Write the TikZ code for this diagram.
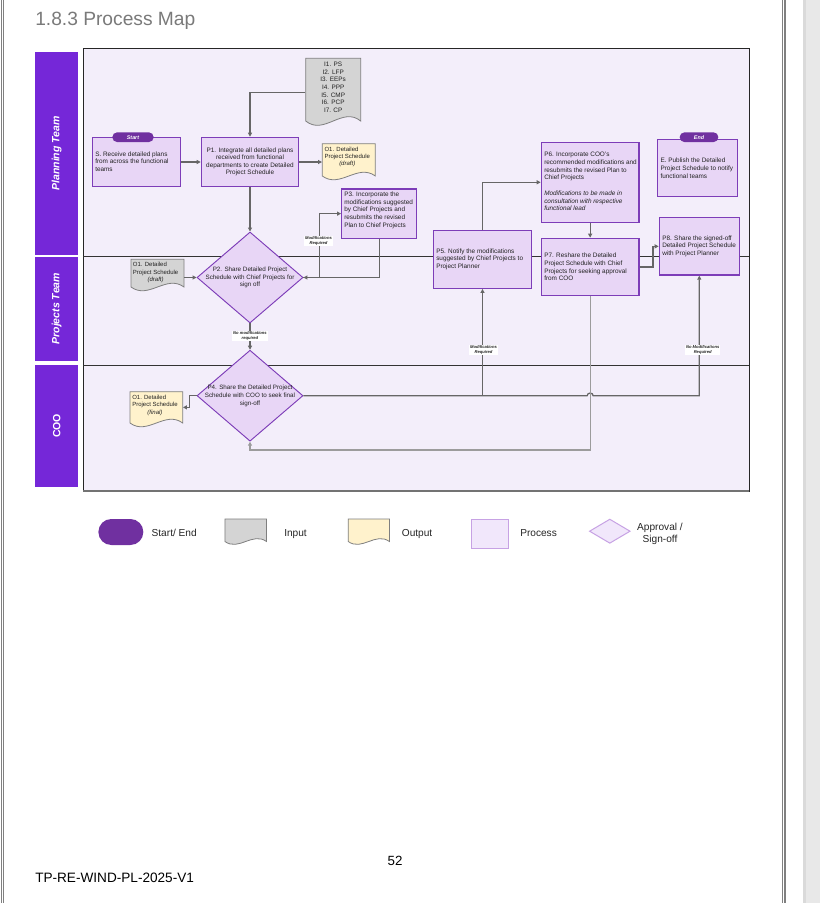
\documentclass[tikz,border=0pt]{standalone}
\usepackage{fontspec}
\setmainfont{Liberation Sans}
\usetikzlibrary{arrows.meta,shapes.geometric,calc}
\definecolor{lanepurple}{HTML}{7527D8}
\definecolor{pillc}{HTML}{7030A0}
\definecolor{procfill}{HTML}{E8D6F6}
\definecolor{procborder}{HTML}{7D3DB8}
\definecolor{bgfill}{HTML}{F3EEFA}
\definecolor{inputfill}{HTML}{D4D4D4}
\definecolor{outputfill}{HTML}{FFF2CC}
\definecolor{docborder}{HTML}{7F7F7F}
\definecolor{conn}{HTML}{666666}
\definecolor{connlight}{HTML}{9C9C9C}
\definecolor{legfill}{HTML}{F1E7FB}
\definecolor{legborder}{HTML}{C7A2E4}
\definecolor{titlegray}{HTML}{7A7A7A}
\definecolor{txt}{HTML}{222222}
\definecolor{pagegray}{HTML}{808080}
\definecolor{scroll}{HTML}{E8E8E8}
\definecolor{scrolldark}{HTML}{DADADA}
\newcommand{\fsz}[2]{\fontsize{#1}{#2}\selectfont}
\newcommand{\docshape}[7]{%
  \draw[line width=0.6pt, draw=docborder, fill=#6] (#2,#3) -- (#4,#3) -- (#4,#5)
    .. controls ({#4-(#4-#2)/3},{#5-#7}) and ({#2+(#4-#2)/3},{#5+#7}) .. (#2,#5) -- cycle;
  \node[inner sep=0pt, minimum width={(#4-#2)*0.75pt}, minimum height={(#5-#3)*0.75pt}] (#1) at ({(#2+#4)/2},{(#3+#5)/2}) {};
}
\newcommand{\odoc}[1]{\begin{tabular}{@{}l@{}}O1. Detailed\\Project Schedule\\\multicolumn{1}{@{}c@{}}{\textit{#1}}\end{tabular}}
\begin{document}
\begin{tikzpicture}[x=0.75pt,y=-0.75pt,
 proc/.style={draw=procborder,fill=procfill,line width=0.95pt,inner sep=0pt},
 ptext/.style={inner sep=0pt,align=left,text=txt,font=\fsz{4.8}{5.7},anchor=west},
 ctext/.style={inner sep=0pt,align=center,text=txt,font=\fsz{4.8}{5.5}},
 diam/.style={diamond,draw=procborder,fill=procfill,line width=0.7pt,inner sep=0pt,minimum width=79.5pt,minimum height=68.25pt},
 pillnode/.style={fill=pillc,text=white,inner sep=0pt,rounded corners=3.6pt,minimum height=7.3pt,font=\bfseries\itshape\fsz{4}{4.5}},
 lane/.style={fill=lanepurple,text=white,inner sep=0pt,rotate=90,minimum height=32.5pt,font=\bfseries\fsz{7.9}{9}},
 dtext/.style={inner sep=0pt,text=txt,font=\fsz{4.5}{5.6},anchor=west},
 conn/.style={draw=conn,line width=0.95pt,-{Triangle[length=3pt,width=3pt]}},
 connl/.style={conn,draw=connlight},
 elabel/.style={fill=white,inner sep=0.6pt,align=center,text=txt,font=\bfseries\itshape\fsz{3.1}{3.8}},
 legtext/.style={inner sep=0pt,text=black!85,font=\fsz{7.6}{9}},
 lanediv/.style={draw=black!80,line width=1.1pt}
]
\useasboundingbox (0,0) rectangle (820,903);
% page chrome
\fill[white] (0,0) rectangle (820,903);
\fill[scroll] (803,0) rectangle (820,903);
\fill[scrolldark] (803,0) rectangle (805.5,903);
\draw[pagegray,line width=0.75pt] (1,0) -- (1,903) (3.8,0) -- (3.8,903);
\draw[pagegray,line width=0.9pt] (782.3,0) -- (782.3,903) (785,0) -- (785,903);
\node[anchor=base west,inner sep=0pt,text=titlegray,font=\fsz{14.4}{17}] (title) at (35,25) {1.8.3 Process Map};
\node[anchor=base,inner sep=0pt,font=\fsz{10}{12}] (pagenum) at (395,865) {52};
\node[anchor=base west,inner sep=0pt,font=\fsz{10.2}{12}] (docid) at (35,882.5) {TP-RE-WIND-PL-2025-V1};

% swimlane frame
\filldraw[fill=bgfill,draw=black!85,line width=1.2pt] (83.3,48.3) rectangle (749.3,490.7);
\draw[draw=black!55,line width=1.4pt] (83.3,490.7) -- (749.3,490.7);
\draw[lanediv] (83.3,256.5) -- (749.3,256.5) (83.3,365.7) -- (749.3,365.7);

% lane labels
\node[lane,minimum width=152.5pt,font=\bfseries\itshape\fsz{7.9}{9}] (lanePT) at (56.65,153.35) {Planning Team};
\node[lane,minimum width=78pt,font=\bfseries\itshape\fsz{7.9}{9}] (lanePJ) at (56.65,308.7) {Projects Team};
\node[lane,minimum width=91.3pt] (laneCOO) at (56.65,425.85) {COO};

% process boxes
\node[proc,minimum width=66pt,minimum height=37pt] (s) at (136.7,162) {};
\node[ptext] (st) at (95,161.7) {S. Receive detailed plans\\from across the functional\\teams};
\node[pillnode,minimum width=31pt] (start) at (133,137.2) {Start};

\node[proc,minimum width=73pt,minimum height=37pt] (p1) at (250,162) {};
\node[ctext] (p1t) at (250,161.7) {P1. Integrate all detailed plans\\received from functional\\departments to create Detailed\\Project Schedule};

\node[proc,minimum width=56.25pt,minimum height=37pt] (p3) at (379.2,213.65) {};
\node[ptext] (p3t) at (344,210.3) {P3. Incorporate the\\modifications suggested\\by Chief Projects and\\resubmits the revised\\Plan to Chief Projects};

\node[proc,minimum width=73.8pt,minimum height=43.35pt] (p5) at (482.5,259.4) {};
\node[ptext] (p5t) at (436,259.1) {P5. Notify the modifications\\suggested by Chief Projects to\\Project Planner};

\node[proc,minimum width=73.3pt,minimum height=60pt] (p6) at (590.15,182.3) {};
\node[ptext,font=\fsz{4.8}{5.8}] (p6t) at (544,181.5) {P6. Incorporate COO's\\recommended modifications and\\resubmits the revised Plan to\\Chief Projects\\[5.8pt]\textit{Modifications to be made in}\\\textit{consultation with respective}\\\textit{functional lead}};

\node[proc,minimum width=73.3pt,minimum height=43pt] (p7) at (590.15,267) {};
\node[ptext] (p7t) at (544,267) {P7. Reshare the Detailed\\Project Schedule with Chief\\Projects for seeking approval\\from COO};

\node[proc,minimum width=60pt,minimum height=43pt] (p8) at (699.3,246.35) {};
\node[ptext] (p8t) at (662,246) {P8. Share the signed-off\\Detailed Project Schedule\\with Project Planner};

\node[proc,minimum width=59.7pt,minimum height=43pt] (e) at (697.5,168) {};
\node[ptext] (et) at (660.3,168.2) {E. Publish the Detailed\\Project Schedule to notify\\functional teams};
\node[pillnode,minimum width=29pt] (endp) at (699,137.2) {End};

% diamonds
\node[diam] (p2) at (250,277.5) {};
\node[ctext,font=\fsz{4.7}{5.6}] (p2t) at (250,277.7) {P2. Share Detailed Project\\Schedule with Chief Projects for\\sign off};
\node[diam] (p4) at (250,395.7) {};
\node[ctext,font=\fsz{4.7}{6}] (p4t) at (250,395.7) {P4. Share the Detailed Project\\Schedule with COO to seek final\\sign-off};

% documents
\docshape{i1}{305.7}{58.3}{360.7}{121}{inputfill}{15}
\node[inner sep=0pt,align=center,text=txt,font=\fsz{4.8}{5.75}] (i1t) at (333.2,87.3) {I1. PS\\I2. LFP\\I3. EEPs\\I4. PPP\\I5. CMP\\I6. PCP\\I7. CP};
\docshape{o1d}{322.3}{143.7}{375.3}{176}{outputfill}{13}
\node[dtext] (o1dt) at (324.3,157) {\odoc{(draft)}};
\docshape{o1p}{131}{259.3}{184}{287}{inputfill}{13}
\node[dtext] (o1pt) at (132.7,272.8) {\odoc{(draft)}};
\docshape{o1f}{130}{391.7}{182.7}{423}{outputfill}{13}
\node[dtext] (o1ft) at (132,405.3) {\odoc{(final)}};

% connectors
\draw[conn] (s.east) -- (p1.west);
\draw[conn] ([yshift=-2.25pt]i1.west) -| (p1.north);
\draw[conn] (p1.east) -- (p1.east -| o1d.west);
\draw[conn] (p1.south) -- (p2.north);
\draw[conn] (p2.east) -- ++(16.3,0) |- (p3.west);
\draw[conn] (p3.south) |- (p2.east);
\draw[conn] (o1p.east |- p2.west) -- (p2.west);
\draw[conn] (p2.south) -- (p4.north);
\draw[conn] (p4.west) -- ++(-7.4,0) |- (o1f.east);
\coordinate (hop) at (p7.south |- p4.east);
\coordinate (j1) at (p5.south |- p4.east);
\draw[conn] (p4.east) -- ([xshift=-2.25pt]hop) .. controls ([xshift=-2.25pt,yshift=2.6pt]hop) and ([xshift=2.25pt,yshift=2.6pt]hop) .. ([xshift=2.25pt]hop) -| (p8.south);
\draw[conn] (j1) -- (p5.south);
\draw[conn] (p5.north) |- (p6.west);
\draw[conn] (p6.south) -- (p7.north);
\draw[conn] (p7.east) -- ++(13.3,0) |- (p8.west);
\draw[connl] (p7.south) -- ++(0,153.6) -| (p4.south);

% connector labels
\node[elabel] (l1) at (318.5,241) {Modifications\\Required};
\node[elabel] (l2) at (250,336) {No modifications\\required};
\node[elabel] (l3) at (483.5,350) {Modifications\\Required};
\node[elabel] (l4) at (702.7,350) {No Modifications\\Required};

% legend
\node[fill=pillc,inner sep=0pt,minimum width=33.7pt,minimum height=19.5pt,rounded corners=9.7pt] (legse) at (120.85,532) {};
\node[legtext,anchor=base west] (legset) at (151.4,536.2) {Start/ End};
\docshape{legin}{224.9}{519}{266.5}{541.5}{inputfill}{10}
\node[legtext,anchor=base west] (legint) at (284,536.2) {Input};
\docshape{legout}{348.2}{519}{389.4}{541.5}{outputfill}{10}
\node[legtext,anchor=base west] (legoutt) at (401.6,536.2) {Output};
\node[draw=legborder,fill=legfill,line width=0.75pt,inner sep=0pt,minimum width=28.2pt,minimum height=21.75pt] (legproc) at (489.8,533.5) {};
\node[legtext,anchor=base west] (legproct) at (520,536.6) {Process};
\node[diamond,draw=legborder,fill=legfill,line width=0.75pt,inner sep=0pt,minimum width=30.6pt,minimum height=18.2pt] (legdiam) at (609.8,531.2) {};
\node[legtext,align=center] (legdiamt) at (660,534) {Approval /\\Sign-off};
\end{tikzpicture}
\end{document}
